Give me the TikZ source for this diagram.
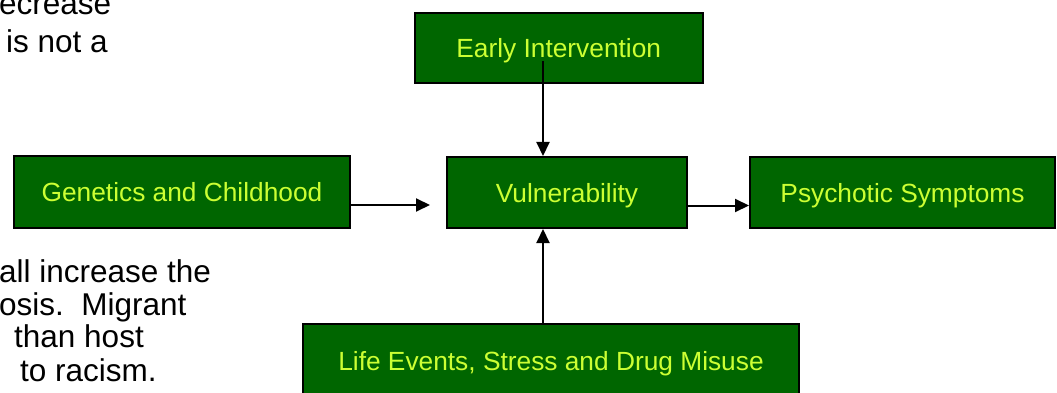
\documentclass[tikz,border=0pt]{standalone}
\usepackage{fontspec}
\setmainfont{Liberation Sans}
\usetikzlibrary{arrows.meta}
\definecolor{boxgreen}{RGB}{0,102,0}
\definecolor{boxtext}{RGB}{204,255,51}
\tikzset{
  greenbox/.style={draw=black, line width=2pt, fill=boxgreen, text=boxtext,
    font=\fontsize{26.3}{30}\selectfont, inner sep=0pt, align=center,
    text height=19pt, text depth=0pt},
  bodytext/.style={anchor=base west, inner sep=0pt, text=black,
    font=\fontsize{31.5}{36}\selectfont},
  arr/.style={line width=2pt, -{Triangle[length=14pt,width=13pt]}}
}
\begin{document}
\begin{tikzpicture}[x=1pt,y=-1pt]
\useasboundingbox (0,0) rectangle (1057,393);
\clip (0,0) rectangle (1057,393);
% fragments of body text
\node[bodytext] (t1) at (-1,15) {ecrease};
\node[bodytext] (t2) at (6,53) {is not a};
\node[bodytext] (t3) at (-1,282) {all increase the};
\node[bodytext] (t4) at (-1,315) {osis.\ \ Migrant};
\node[bodytext] (t5) at (14,347) {than host};
\node[bodytext] (t6) at (20,381) {to racism.};
% boxes
\node[greenbox, minimum width=288.5pt, minimum height=70pt] (ear) at (558.75,48) {Early Intervention};
\node[greenbox, minimum width=336pt, minimum height=72pt] (gen) at (182,192) {Genetics and Childhood};
\node[greenbox, minimum width=240pt, minimum height=71pt] (vul) at (567,192.5) {Vulnerability};
\node[greenbox, minimum width=305pt, minimum height=71pt] (psy) at (902.5,192.5) {Psychotic Symptoms};
\node[greenbox, minimum width=496pt, minimum height=74pt] (lif) at (551,361) {Life Events, Stress and Drug Misuse};
% connectors
\coordinate (estart) at (543,61);
\coordinate (gtip) at (430,205);
\draw[arr] (estart) -- (estart |- vul.north);
\draw[arr] (gen.east |- gtip) -- (gtip);
\draw[arr] ([yshift=-13pt]vul.east) -- ([yshift=-13pt]psy.west);
\draw[arr] (lif.north -| estart) -- (vul.south -| estart);
\end{tikzpicture}
\end{document}
